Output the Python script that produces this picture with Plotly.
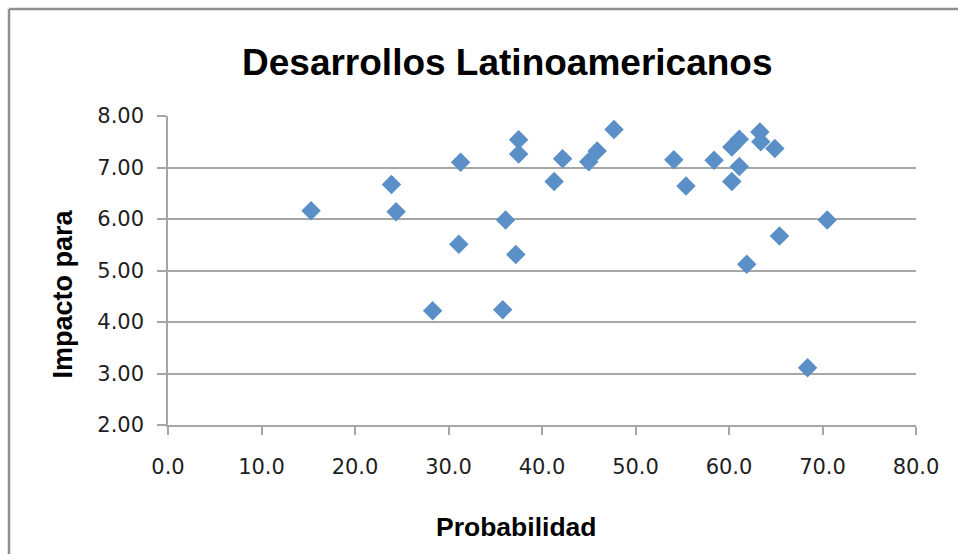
import plotly.graph_objects as go

# Data
probabilidad = [15.3, 23.9, 24.4, 28.3, 31.1, 31.3, 35.8, 36.1, 37.2, 37.5,
                37.5, 41.3, 42.2, 45.0, 45.9, 47.7, 54.1, 55.4, 58.4, 60.3,
                61.1, 60.3, 61.1, 63.3, 63.4, 64.9, 61.9, 65.4, 70.5, 68.4]
impacto = [6.16, 6.67, 6.14, 4.22, 5.51, 7.10, 4.24, 5.98, 5.31, 7.54,
           7.26, 6.73, 7.17, 7.11, 7.32, 7.74, 7.15, 6.64, 7.14, 6.73,
           7.02, 7.40, 7.55, 7.69, 7.50, 7.37, 5.12, 5.67, 5.98, 3.11]

titulo = "Desarrollos Latinoamericanos"
titulo_x = "Probabilidad"
titulo_y = "Impacto para"

W, H = 958, 554
L, R, T, B = 168, 42, 116, 129
PW, PH = W - L - R, H - T - B


def px(x):
    return (x - L) / PW


def py(y):
    return (H - B - y) / PH


fig = go.Figure()
fig.add_trace(go.Scatter(
    x=probabilidad, y=impacto, mode="markers",
    marker=dict(symbol="diamond", size=15, color="#5a8fc8", line=dict(width=0)),
    showlegend=False, cliponaxis=False,
))

grid = "#a6a6a6"
tickfont = dict(family="DejaVu Sans", size=21, color="#1e1e1e")
border = dict(color="#8f8f8f", width=2.5)

fig.update_layout(
    width=W, height=H,
    margin=dict(l=L, r=R, t=T, b=B, pad=0),
    paper_bgcolor="white", plot_bgcolor="white",
    xaxis=dict(range=[0, 80], dtick=10, tick0=0, tickformat=".1f",
               showgrid=False, zeroline=False, showline=True,
               linecolor=grid, linewidth=1.5, ticks="outside", ticklen=8,
               tickcolor=grid, tickwidth=1.5, tickfont=tickfont,
               ticklabelstandoff=14, fixedrange=True),
    yaxis=dict(range=[2, 8], dtick=1, tick0=2, tickformat=".2f",
               showgrid=True, gridcolor=grid, gridwidth=1.5,
               zeroline=False, showline=True, linecolor=grid, linewidth=1.5,
               ticks="outside", ticklen=9, tickcolor=grid, tickwidth=1.5,
               tickfont=tickfont, ticklabelstandoff=9, fixedrange=True),
    shapes=[
        dict(type="line", xref="paper", yref="paper",
             x0=px(9), x1=px(9), y0=py(9), y1=py(600), line=border, layer="below"),
        dict(type="line", xref="paper", yref="paper",
             x0=px(9), x1=px(1000), y0=py(9), y1=py(9), line=border, layer="below"),
    ],
    annotations=[
        dict(text="<b>" + titulo + "</b>", xref="paper", yref="paper",
             x=px(507), y=py(63), xanchor="center", yanchor="middle",
             showarrow=False,
             font=dict(family="Liberation Sans", size=37, color="black")),
        dict(text="<b>" + titulo_x + "</b>", xref="paper", yref="paper",
             x=px(516), y=py(527), xanchor="center", yanchor="middle",
             showarrow=False,
             font=dict(family="Liberation Sans", size=26.5, color="black")),
        dict(text="<b>" + titulo_y + "</b>", xref="paper", yref="paper",
             x=px(62), y=py(293.5), xanchor="center", yanchor="middle",
             textangle=-90, showarrow=False,
             font=dict(family="Liberation Sans", size=27, color="black")),
    ],
)

fig.write_html("out.html", config={"displayModeBar": False},
               post_script="document.body.style.margin='0';"
                           "document.body.style.overflow='hidden';")
